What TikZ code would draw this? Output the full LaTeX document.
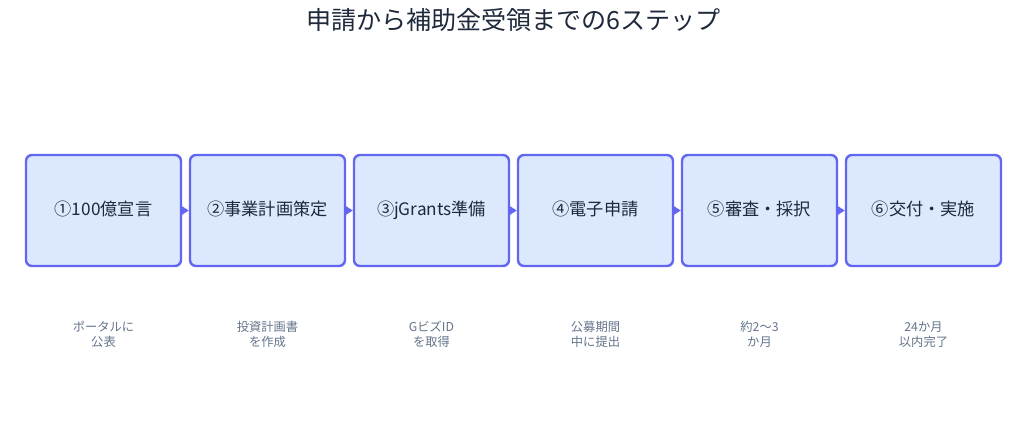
\documentclass[tikz,border=0pt]{standalone}
\usepackage{fontspec}
\setmainfont{Noto Sans CJK JP}
\usetikzlibrary{arrows.meta}
\definecolor{boxfill}{HTML}{DBE8FE}
\definecolor{boxdraw}{HTML}{6366F1}
\definecolor{txt}{HTML}{1E293B}
\definecolor{sub}{HTML}{64748B}
\begin{document}
\begin{tikzpicture}[x=0.75pt,y=-0.75pt,
  stepbox/.style={draw=boxdraw,fill=boxfill,line width=1.8pt,rounded corners=4.5pt,
    minimum width=155*0.75pt,minimum height=111*0.75pt,inner sep=0pt,
    text height=10.5pt,text depth=2.5pt,
    font=\fontsize{12.9pt}{15pt}\selectfont,text=txt},
  note/.style={font=\fontsize{9.2pt}{11.3pt}\selectfont,text=sub,align=center},
  conn/.style={draw=boxdraw,line width=1.5pt,-{Triangle[length=5pt,width=6pt]}}]
\useasboundingbox (0,0) rectangle (1027,432);
\node[font=\fontsize{18.8pt}{22pt}\selectfont,text=txt] (title) at (513.5,20) {申請から補助金受領までの6ステップ};
\node[stepbox] (s1) at (103.5,210.5) {①100億宣言};
\node[stepbox] (s2) at (267.5,210.5) {②事業計画策定};
\node[stepbox] (s3) at (431.5,210.5) {③jGrants準備};
\node[stepbox] (s4) at (595.5,210.5) {④電子申請};
\node[stepbox] (s5) at (759.5,210.5) {⑤審査・採択};
\node[stepbox] (s6) at (923.5,210.5) {⑥交付・実施};
\draw[conn] (s1) -- (s2);
\draw[conn] (s2) -- (s3);
\draw[conn] (s3) -- (s4);
\draw[conn] (s4) -- (s5);
\draw[conn] (s5) -- (s6);
\node[note] (n1) at (103.5,334.5) {ポータルに\\公表};
\node[note] (n2) at (267.5,334.5) {投資計画書\\を作成};
\node[note] (n3) at (431.5,334.5) {GビズID\\を取得};
\node[note] (n4) at (595.5,334.5) {公募期間\\中に提出};
\node[note] (n5) at (759.5,334.5) {約2〜3\\か月};
\node[note] (n6) at (923.5,334.5) {24か月\\以内完了};
\end{tikzpicture}
\end{document}
